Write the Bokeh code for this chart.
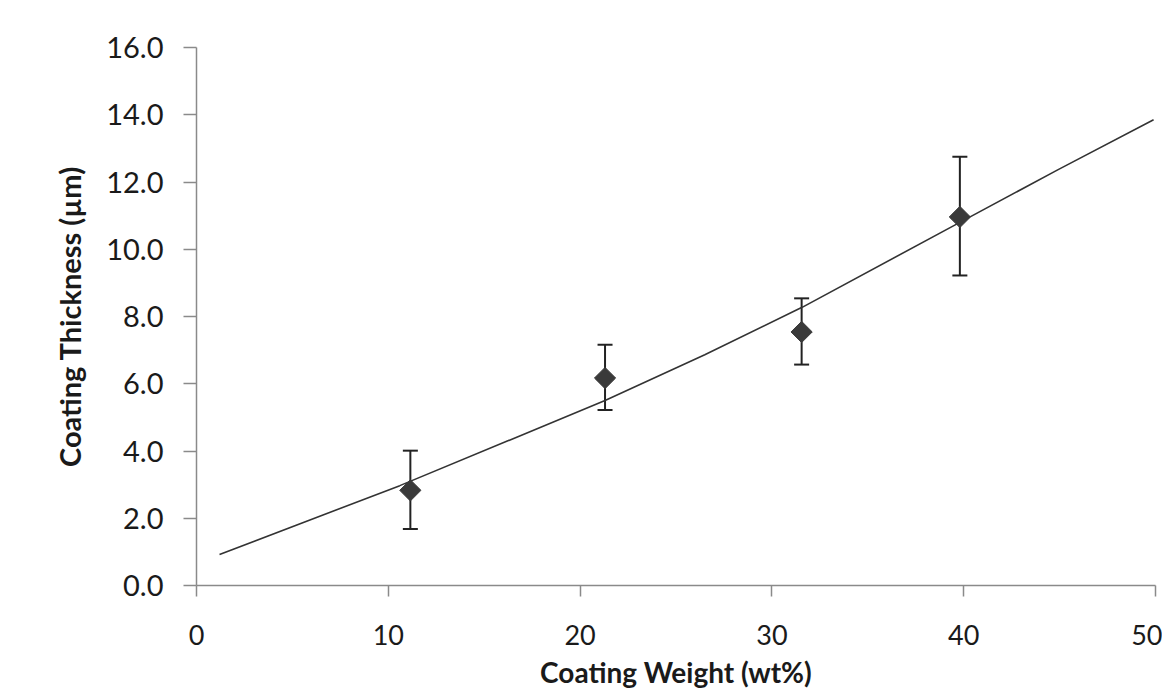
from bokeh.plotting import figure
from bokeh.models import ColumnDataSource, Whisker, TeeHead, FixedTicker, Range1d
from bokeh.embed import file_html
from bokeh.resources import INLINE
import numpy as np

# Measured points
weight = [11.15, 21.3, 31.55, 39.8]
thickness = [2.83, 6.17, 7.54, 10.96]
err_upper = [4.01, 7.16, 8.54, 12.75]
err_lower = [1.68, 5.22, 6.57, 9.22]

# Trend curve
curve_x = [1.2, 10.6, 21.3, 26.5, 31.6, 39.8, 44.9, 49.9]
curve_y = [0.92, 2.97, 5.50, 6.86, 8.28, 10.80, 12.36, 13.85]

x_ticks = [0, 10, 20, 30, 40, 50]
y_ticks = [0, 2, 4, 6, 8, 10, 12, 14, 16]

p = figure(width=1162, height=694, output_backend="svg", toolbar_location=None,
           x_range=Range1d(0, 50), y_range=Range1d(0, 16),
           min_border_left=196, min_border_right=7, min_border_top=47, min_border_bottom=109)
p.outline_line_color = None
p.xgrid.visible = False
p.ygrid.visible = False
p.background_fill_color = "white"

p.line(curve_x, curve_y, line_color="#333333", line_width=1.6)

src = ColumnDataSource(dict(x=weight, y=thickness, upper=err_upper, lower=err_lower))
wh = Whisker(base="x", upper="upper", lower="lower", source=src,
             line_color="#222222", line_width=2,
             upper_head=TeeHead(size=15, line_color="#222222", line_width=2),
             lower_head=TeeHead(size=15, line_color="#222222", line_width=2))
p.add_layout(wh)
p.scatter("x", "y", source=src, marker="square", angle=np.pi / 4, size=15,
          fill_color="#3a3a3a", line_color="#3a3a3a")

font = "Lato"
for ax in (p.xaxis[0], p.yaxis[0]):
    ax.axis_line_color = "#8a8a8a"
    ax.axis_line_width = 1.5
    ax.major_tick_line_color = "#8a8a8a"
    ax.major_tick_line_width = 1.5
    ax.major_tick_in = 0
    ax.minor_tick_line_color = None
    ax.major_label_text_font = font
    ax.major_label_text_color = "#1a1a1a"
    ax.axis_label_text_font = font
    ax.axis_label_text_font_style = "bold"
    ax.axis_label_text_color = "#1a1a1a"

p.xaxis.major_label_text_font_size = "27px"
p.yaxis.major_label_text_font_size = "29px"
p.xaxis.axis_label_text_font_size = "28px"
p.yaxis.axis_label_text_font_size = "29px"
p.xaxis.ticker = FixedTicker(ticks=x_ticks)
p.yaxis.ticker = FixedTicker(ticks=y_ticks)
p.yaxis.major_label_overrides = {t: f"{t:.1f}" for t in y_ticks}
p.xaxis.major_tick_out = 11
p.yaxis.major_tick_out = 13
p.xaxis.major_label_standoff = 28
p.yaxis.major_label_standoff = 20
p.xaxis.axis_label = "Coating Weight (wt%)"
p.yaxis.axis_label = "Coating Thickness (µm)"
p.xaxis.axis_label_standoff = 7
p.yaxis.axis_label_standoff = 16

open("out.html", "w").write(file_html(p, INLINE))
